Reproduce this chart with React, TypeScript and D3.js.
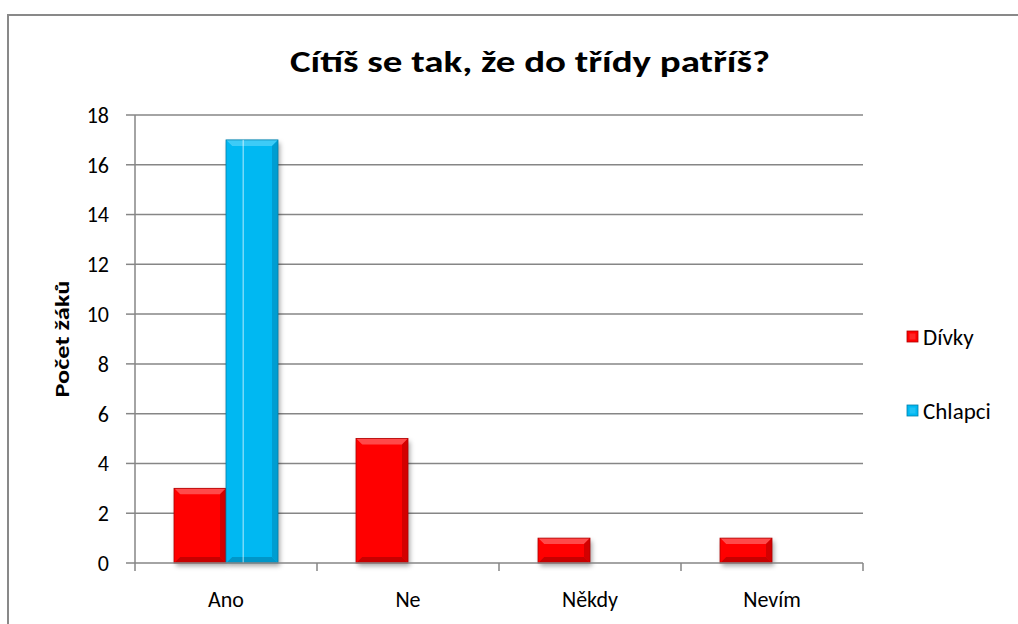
import React from "react";
import * as d3 from "d3";

const categories = ["Ano", "Ne", "Někdy", "Nevím"];
const seriesNames = ["Dívky", "Chlapci"];
const divky = [3, 5, 1, 1];
const chlapci = [17, 0, 0, 0];
const yTicks = [0, 2, 4, 6, 8, 10, 12, 14, 16, 18];
const title = "Cítíš se tak, že do třídy patříš?";
const yLabel = "Počet žáků";

const colors = [
  { main: "#FF0000", light: "#FF4A4A", dark: "#C80000", edge: "#B00000" },
  { main: "#00B8F2", light: "#3DCBF7", dark: "#0096C8", edge: "#007FAA" },
];

const W = 1018;
const H = 624;
const left = 135;
const right = 863;
const top = 115;
const bottom = 563;
const FONT = "Carlito, Calibri, Lato, 'Open Sans', sans-serif";

function Bar({ x, y, w, h, c, idx }: any) {
  if (h <= 0) return null;
  const b = Math.min(6, h / 2, w / 2);
  return (
    <g>
      <rect x={x} y={y} width={w} height={h} fill={c.main} filter="url(#shadow)" />
      <polygon points={`${x},${y} ${x + w},${y} ${x + w - b},${y + b} ${x + b},${y + b}`} fill={c.light} />
      <polygon points={`${x},${y + h} ${x + w},${y + h} ${x + w - b},${y + h - b} ${x + b},${y + h - b}`} fill={c.dark} />
      <polygon points={`${x},${y} ${x + b},${y + b} ${x + b},${y + h - b} ${x},${y + h}`} fill={c.main} opacity={0.9} />
      <polygon points={`${x + w},${y} ${x + w - b},${y + b} ${x + w - b},${y + h - b} ${x + w},${y + h}`} fill={c.dark} opacity={0.8} />
      <rect x={x} y={y} width={w} height={h} fill="none" stroke={c.edge} strokeWidth={0.8} />
      {idx === 1 && (
        <line x1={x + w * 0.33} x2={x + w * 0.33} y1={y} y2={y + h} stroke="#ffffff" strokeOpacity={0.7} strokeWidth={1} />
      )}
    </g>
  );
}

export default function App() {
  const x0 = d3
    .scaleBand<string>()
    .domain(categories)
    .range([left, right])
    .paddingInner(0.4286)
    .paddingOuter(0.2143);
  const x1 = d3.scaleBand<string>().domain(seriesNames).range([0, x0.bandwidth()]);
  const y = d3.scaleLinear().domain([0, 18]).range([bottom, top]);
  const data = [divky, chlapci];
  const step = (right - left) / categories.length;

  return (
    <svg width={W} height={H} style={{ position: "absolute", left: 0, top: 0 }}>
      <defs>
        <filter id="shadow" x="-20%" y="-20%" width="150%" height="150%">
          <feDropShadow dx="2" dy="3" stdDeviation="2.5" floodColor="#000" floodOpacity="0.35" />
        </filter>
      </defs>
      <rect x={0} y={0} width={W} height={H} fill="#fff" />
      <rect x={8} y={15} width={W + 20} height={H + 20} fill="#fff" stroke="#898989" strokeWidth={2} />
      <text x={530} y={72} textAnchor="middle" fontFamily={FONT} fontWeight="bold" fontSize={31} textLength={480} lengthAdjust="spacingAndGlyphs">
        {title}
      </text>
      {yTicks.map((t) => (
        <g key={t}>
          {t > 0 && <line x1={left} x2={right} y1={y(t)} y2={y(t)} stroke="#868686" strokeWidth={1.5} />}
          <line x1={126} x2={left} y1={y(t)} y2={y(t)} stroke="#868686" strokeWidth={1.5} />
          <text x={109} y={y(t)} dy="0.36em" textAnchor="end" fontFamily={FONT} fontSize={22} fill="#000">
            {t}
          </text>
        </g>
      ))}
      <text
        transform={`translate(69,${(top + bottom) / 2}) rotate(-90)`}
        textAnchor="middle"
        fontFamily={FONT}
        fontWeight="bold"
        fontSize={20}
        textLength={117}
        lengthAdjust="spacingAndGlyphs"
      >
        {yLabel}
      </text>
      {categories.map((c, ci) =>
        data.map((s, si) => {
          const v = s[ci];
          const bx = (x0(c) as number) + (x1(seriesNames[si]) as number);
          return <Bar key={`${ci}-${si}`} x={bx} y={y(v)} w={x1.bandwidth()} h={y(0) - y(v)} c={colors[si]} idx={si} />;
        })
      )}
      <line x1={left} x2={left} y1={top} y2={bottom} stroke="#868686" strokeWidth={1.5} />
      <line x1={left} x2={right} y1={bottom} y2={bottom} stroke="#868686" strokeWidth={1.5} />
      {d3.range(categories.length + 1).map((i) => (
        <line key={i} x1={left + i * step} x2={left + i * step} y1={bottom} y2={bottom + 8} stroke="#868686" strokeWidth={1.5} />
      ))}
      {categories.map((c) => (
        <text key={c} x={(x0(c) as number) + x0.bandwidth() / 2} y={607} textAnchor="middle" fontFamily={FONT} fontSize={22}>
          {c}
        </text>
      ))}
      {seriesNames.map((n, i) => (
        <g key={n} transform={`translate(907,${331 + i * 74})`}>
          <rect x={0} y={0} width={11} height={11} fill={colors[i].main} stroke={colors[i].edge} strokeWidth={0.8} />
          <rect x={2.5} y={2.5} width={6} height={6} fill={colors[i].light} opacity={0.5} />
          <text x={16} y={5.5} dy="0.36em" fontFamily={FONT} fontSize={23}>
            {n}
          </text>
        </g>
      ))}
    </svg>
  );
}
